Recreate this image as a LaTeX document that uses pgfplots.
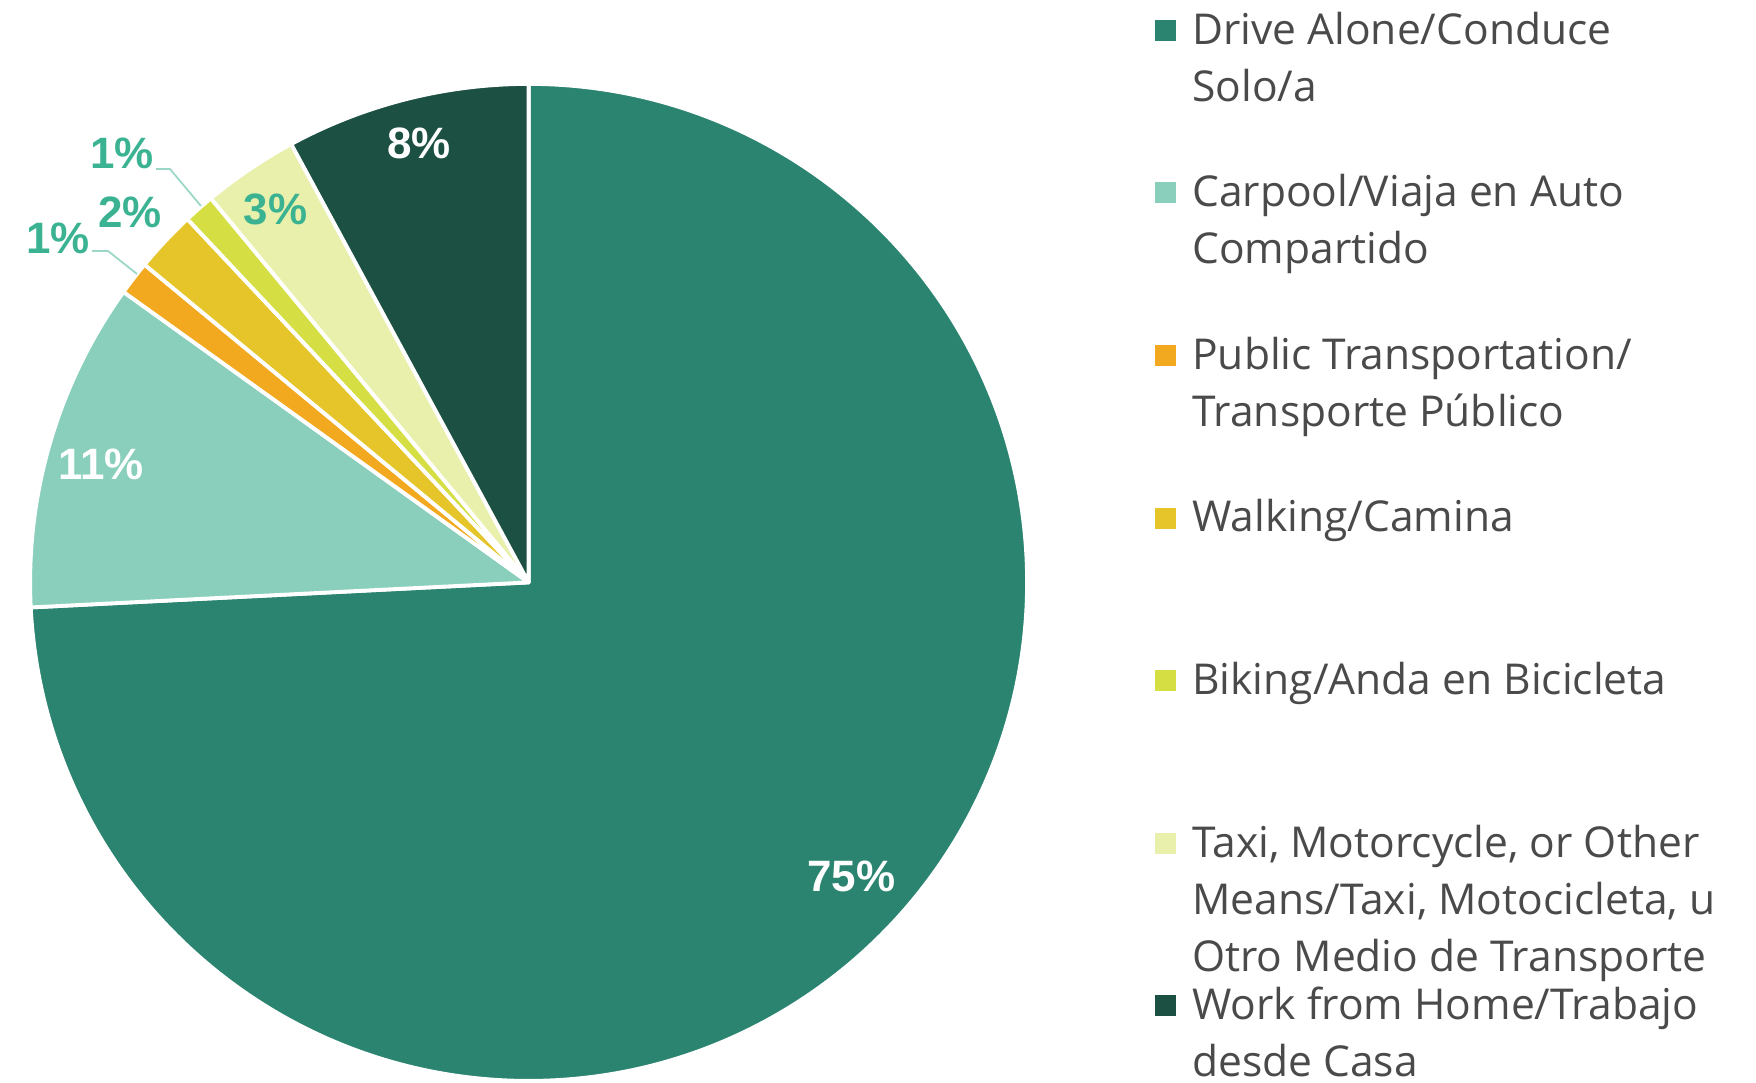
\documentclass[border=0pt]{standalone}
\usepackage{pgfplots}
\pgfplotsset{compat=1.18}
\usepackage{pgfplotstable}
\usepackage{fontspec}
\setmainfont{Open Sans}
\newfontfamily\labfont{Liberation Sans}
\definecolor{cDrive}{HTML}{2A8470}
\definecolor{cCarpool}{HTML}{89CFBC}
\definecolor{cPublic}{HTML}{F2A91F}
\definecolor{cWalking}{HTML}{E5C52A}
\definecolor{cBiking}{HTML}{D5DF44}
\definecolor{cTaxi}{HTML}{E9F0AB}
\definecolor{cWFH}{HTML}{1B5043}
\definecolor{labteal}{HTML}{3BB393}
\definecolor{leader}{HTML}{9AD7C7}
\definecolor{legtext}{HTML}{4A4A4A}
\pgfplotstableread{
mode value
Drive 74.2
Carpool 10.7
Public 1.1
Walking 2.0
Biking 1.0
Taxi 3.1
WFH 7.9
}\modetable
\begin{document}
\begin{tikzpicture}
\pgfplotstablegetelem{0}{value}\of\modetable \pgfmathsetmacro\vA{\pgfplotsretval}
\pgfplotstablegetelem{1}{value}\of\modetable \pgfmathsetmacro\vB{\pgfplotsretval}
\pgfplotstablegetelem{2}{value}\of\modetable \pgfmathsetmacro\vC{\pgfplotsretval}
\pgfplotstablegetelem{3}{value}\of\modetable \pgfmathsetmacro\vD{\pgfplotsretval}
\pgfplotstablegetelem{4}{value}\of\modetable \pgfmathsetmacro\vE{\pgfplotsretval}
\pgfplotstablegetelem{5}{value}\of\modetable \pgfmathsetmacro\vF{\pgfplotsretval}
\pgfplotstablegetelem{6}{value}\of\modetable \pgfmathsetmacro\vG{\pgfplotsretval}
\pgfmathsetmacro\aA{90}
\pgfmathsetmacro\aB{\aA-3.6*\vA}
\pgfmathsetmacro\aC{\aB-3.6*\vB}
\pgfmathsetmacro\aD{\aC-3.6*\vC}
\pgfmathsetmacro\aE{\aD-3.6*\vD}
\pgfmathsetmacro\aF{\aE-3.6*\vE}
\pgfmathsetmacro\aG{\aF-3.6*\vF}
\pgfmathsetmacro\aH{\aG-3.6*\vG}
\def\R{49.85mm}
\def\ctr{(axis cs:528.6,498.6)}
\begin{axis}[
  x=0.1mm, y=0.1mm, xmin=0, xmax=1756, ymin=0, ymax=1081,
  scale only axis, hide axis, clip=false,
]
\addplot[draw=none, forget plot] coordinates {(0,0) (1756,1081)};
\tikzset{slice/.style={draw=white, line width=1.1pt, line join=round}}
\fill[cDrive, slice] \ctr -- ++(\aA:\R) arc[start angle=\aA, end angle=\aB, radius=\R] -- cycle;
\fill[cCarpool, slice] \ctr -- ++(\aB:\R) arc[start angle=\aB, end angle=\aC, radius=\R] -- cycle;
\fill[cPublic, slice] \ctr -- ++(\aC:\R) arc[start angle=\aC, end angle=\aD, radius=\R] -- cycle;
\fill[cWalking, slice] \ctr -- ++(\aD:\R) arc[start angle=\aD, end angle=\aE, radius=\R] -- cycle;
\fill[cBiking, slice] \ctr -- ++(\aE:\R) arc[start angle=\aE, end angle=\aF, radius=\R] -- cycle;
\fill[cTaxi, slice] \ctr -- ++(\aF:\R) arc[start angle=\aF, end angle=\aG, radius=\R] -- cycle;
\fill[cWFH, slice] \ctr -- ++(\aG:\R) arc[start angle=\aG, end angle=\aH, radius=\R] -- cycle;
% data labels
\tikzset{plab/.style={font=\labfont\bfseries\fontsize{12.5}{15}\selectfont, inner sep=0pt}}
\node[plab, text=white] at (axis cs:851.2,204.1) {75\%};
\node[plab, text=white] at (axis cs:100.8,616.2) {11\%};
\node[plab, text=white] at (axis cs:418.8,937.6) {8\%};
\node[plab, text=labteal] at (axis cs:275.5,871.6) {3\%};
\node[plab, text=labteal] at (axis cs:129.9,868.2) {2\%};
\node[plab, text=labteal] at (axis cs:58.2,842.4) {1\%};
\node[plab, text=labteal] at (axis cs:122,927.6) {1\%};
\draw[leader, line width=0.5pt] (axis cs:92,830) -- (axis cs:108,830) -- (axis cs:137,807);
\draw[leader, line width=0.5pt] (axis cs:156,912) -- (axis cs:170,912) -- (axis cs:201,875);
% legend
\tikzset{lt/.style={anchor=base west, inner sep=0pt, text=legtext, font=\fontsize{12.1}{16}\selectfont}}
\fill[cDrive]   (axis cs:1154.5,1040.3) rectangle (axis cs:1175.5,1061.3);
\node[lt] at (axis cs:1191.6,1036.8) {Drive Alone/Conduce};
\node[lt] at (axis cs:1191.6,979.8) {Solo/a};
\fill[cCarpool] (axis cs:1154.5,877.7) rectangle (axis cs:1175.5,898.7);
\node[lt] at (axis cs:1191.6,874.2) {Carpool/Viaja en Auto};
\node[lt] at (axis cs:1191.6,817.2) {Compartido};
\fill[cPublic]  (axis cs:1154.5,715.1) rectangle (axis cs:1175.5,736.1);
\node[lt] at (axis cs:1191.6,711.6) {Public Transportation/};
\node[lt] at (axis cs:1191.6,654.6) {Transporte Público};
\fill[cWalking] (axis cs:1154.5,552.5) rectangle (axis cs:1175.5,573.5);
\node[lt] at (axis cs:1191.6,549.0) {Walking/Camina};
\fill[cBiking]  (axis cs:1154.5,389.9) rectangle (axis cs:1175.5,410.9);
\node[lt] at (axis cs:1191.6,386.4) {Biking/Anda en Bicicleta};
\fill[cTaxi]    (axis cs:1154.5,227.3) rectangle (axis cs:1175.5,248.3);
\node[lt] at (axis cs:1191.6,223.8) {Taxi, Motorcycle, or Other};
\node[lt] at (axis cs:1191.6,166.8) {Means/Taxi, Motocicleta, u};
\node[lt] at (axis cs:1191.6,109.8) {Otro Medio de Transporte};
\fill[cWFH]     (axis cs:1154.5,64.7) rectangle (axis cs:1175.5,85.7);
\node[lt] at (axis cs:1191.6,61.2) {Work from Home/Trabajo};
\node[lt] at (axis cs:1191.6,4.2) {desde Casa};
\end{axis}
\end{tikzpicture}
\end{document}
